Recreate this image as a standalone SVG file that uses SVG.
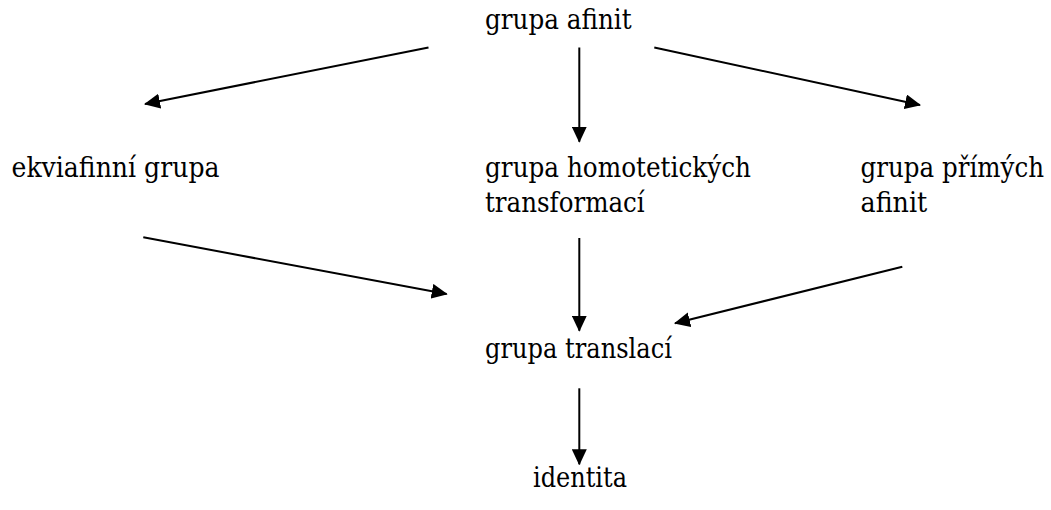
<svg xmlns="http://www.w3.org/2000/svg" width="1051" height="510" viewBox="0 0 1051 510">
<defs>
<style>
text { font-family: "DejaVu Serif", "Liberation Serif", serif; font-size: 27.5px; fill: #000; }
.c line { stroke: #000; stroke-width: 2; fill: none; marker-end: url(#ah); }
</style>
<marker id="ah" markerUnits="userSpaceOnUse" markerWidth="16" markerHeight="15" refX="15" refY="7.5" orient="auto" viewBox="0 0 16 15">
<path d="M0,0 L16,7.5 L0,15 z" fill="#000"/>
</marker>
</defs>
<rect width="1051" height="510" fill="#fff"/>
<g id="n-afinit"><text x="485" y="29" textLength="146.6" lengthAdjust="spacingAndGlyphs">grupa afinit</text></g>
<g id="n-ekvi"><text x="11.5" y="177" textLength="208" lengthAdjust="spacingAndGlyphs">ekviafinní grupa</text></g>
<g id="n-homot"><text x="485" y="177" textLength="266" lengthAdjust="spacingAndGlyphs">grupa homotetických</text><text x="485" y="212" textLength="159.7" lengthAdjust="spacingAndGlyphs">transformací</text></g>
<g id="n-prime"><text x="1044" y="177" text-anchor="end" textLength="183.5" lengthAdjust="spacingAndGlyphs">grupa přímých</text><text x="860.5" y="212" textLength="66.7" lengthAdjust="spacingAndGlyphs">afinit</text></g>
<g id="n-transl"><text x="485" y="358" textLength="186.9" lengthAdjust="spacingAndGlyphs">grupa translací</text></g>
<g id="n-ident"><text x="533" y="487" textLength="94" lengthAdjust="spacingAndGlyphs">identita</text></g>
<g id="connectors" class="c">
<line x1="428.5" y1="47.5" x2="145" y2="104"/>
<line x1="579.3" y1="47.5" x2="579.3" y2="141.7"/>
<line x1="654.3" y1="47.5" x2="920" y2="105"/>
<line x1="143.3" y1="237.3" x2="446.7" y2="294"/>
<line x1="579.3" y1="238" x2="579.3" y2="330.7"/>
<line x1="902.3" y1="266.7" x2="675" y2="323.3"/>
<line x1="579.3" y1="388.3" x2="579.3" y2="464.3"/>
</g>
</svg>
